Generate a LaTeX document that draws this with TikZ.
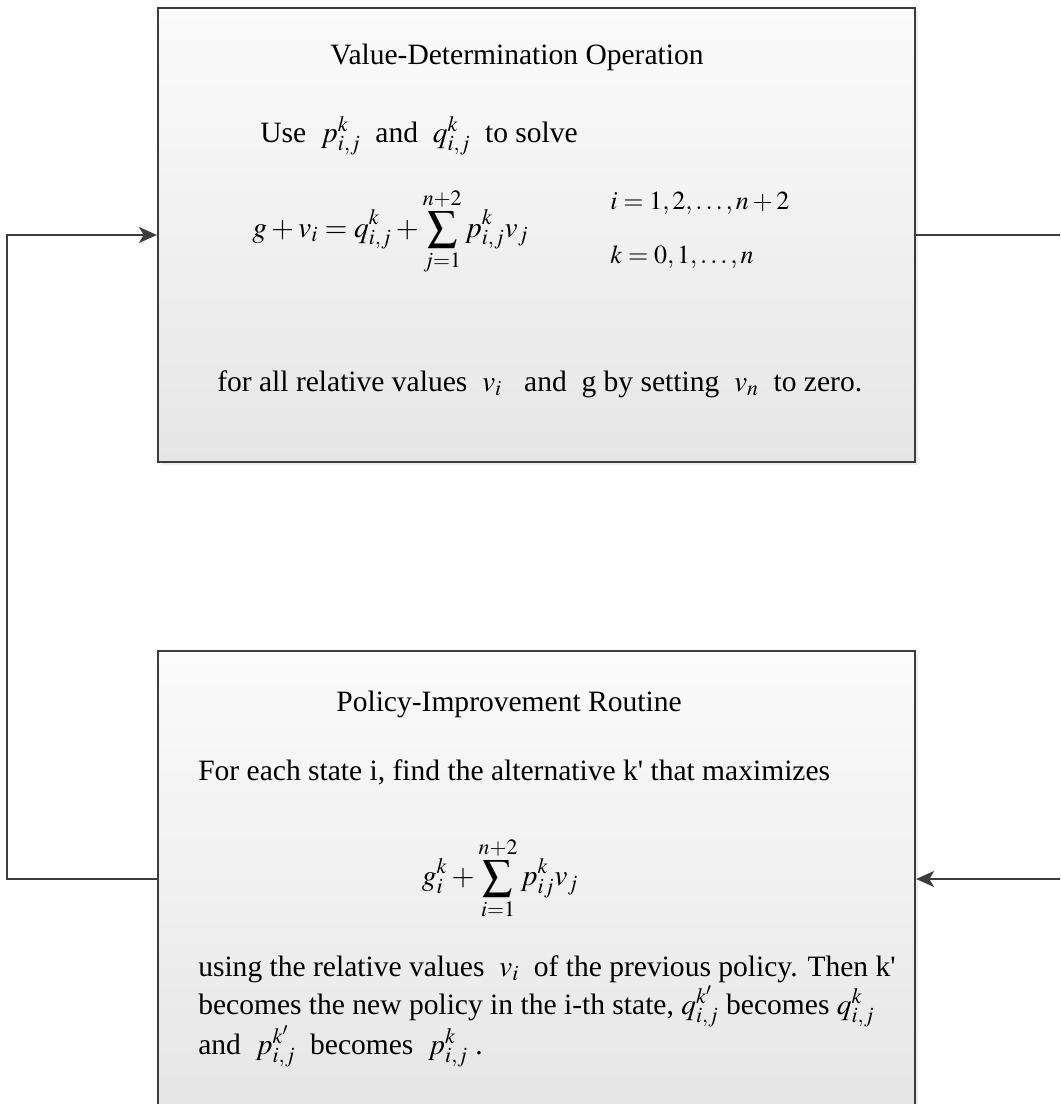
\documentclass[tikz,border=0pt]{standalone}
\usepackage{mathptmx}
\usepackage{fontspec}
\setmainfont{Liberation Serif}
\usetikzlibrary{arrows.meta,positioning,shadows}
\definecolor{LineGray}{HTML}{3C3C3C}
\definecolor{BoxTop}{HTML}{FBFBFB}
\definecolor{BoxBottom}{HTML}{E6E6E6}

\begin{document}
\begin{tikzpicture}[
  x=0.025cm,y=-0.025cm,
  font=\fontsize{21}{26}\selectfont,
  stage/.style={draw=LineGray,line width=1.4pt,top color=BoxTop,bottom color=BoxBottom,
    minimum width=18.925cm,drop shadow={shadow xshift=0.07cm,shadow yshift=-0.07cm,opacity=0.15}},
  txt/.style={anchor=base west,inner sep=0pt},
  rangerow/.style={txt,font=\fontsize{18.5}{22}\selectfont},
  arr/.style={-{Stealth[length=0.45cm,width=0.4cm,inset=0.12cm]},line width=1.4pt,LineGray}
]
  \clip (0,0) rectangle (1060,1104);
  \node[stage,minimum height=11.35cm] (valbox) at (536.5,235) {};
  \node[stage,minimum height=11.4cm] (polbox) at (536.5,879) {};

  % value determination
  \node[inner sep=0pt] (valtitle) at (517,57) {Value-Determination Operation};
  \node[txt] (valuse) at (260,142) {Use \ \(p^k_{i,j}\) \ and \ \(q^k_{i,j}\) \ to solve};
  \node[txt] (valeq) at (252,237) {\(\displaystyle g+v_i=q^k_{i,j}+\sum_{j=1}^{n+2}p^k_{i,j}v_j\)};
  \node[rangerow] (valrange1) at (610,209) {\(i=1,2,\ldots,n+2\)};
  \node[rangerow] (valrange2) at (610,263) {\(k=0,1,\ldots,n\)};
  \node[txt] (valfoot) at (217,391) {for all relative values \ \(v_i\) \ \ and \ g by setting \ \(v_n\) \ to zero.};

  % policy improvement
  \node[inner sep=0pt] (poltitle) at (509,704) {Policy-Improvement Routine};
  \node[txt] (polfind) at (198,780) {For each state i, find the alternative k\textquotesingle{} that maximizes};
  \node[inner sep=0pt] (poleq) at (500,878) {\(\displaystyle g^k_i+\sum_{i=1}^{n+2}p^k_{ij}v_j\)};
  \node[txt] (polline1) at (198,976) {using the relative values \ \(v_i\) \ of the previous policy. Then k\textquotesingle};
  \node[txt] (polline2) at (198,1014) {becomes the new policy in the i-th state, \(q^{k'}_{i,j}\) becomes \(q^k_{i,j}\)};
  \node[txt] (polline3) at (198,1054) {and \ \(p^{k'}_{i,j}\) \ becomes \ \(p^k_{i,j}\) .};

  \draw[arr] (valbox.east) -- ++(170,0) |- (polbox.east);
  \draw[arr] (polbox.west) -- ++(-150,0) |- (valbox.west);
\end{tikzpicture}
\end{document}
